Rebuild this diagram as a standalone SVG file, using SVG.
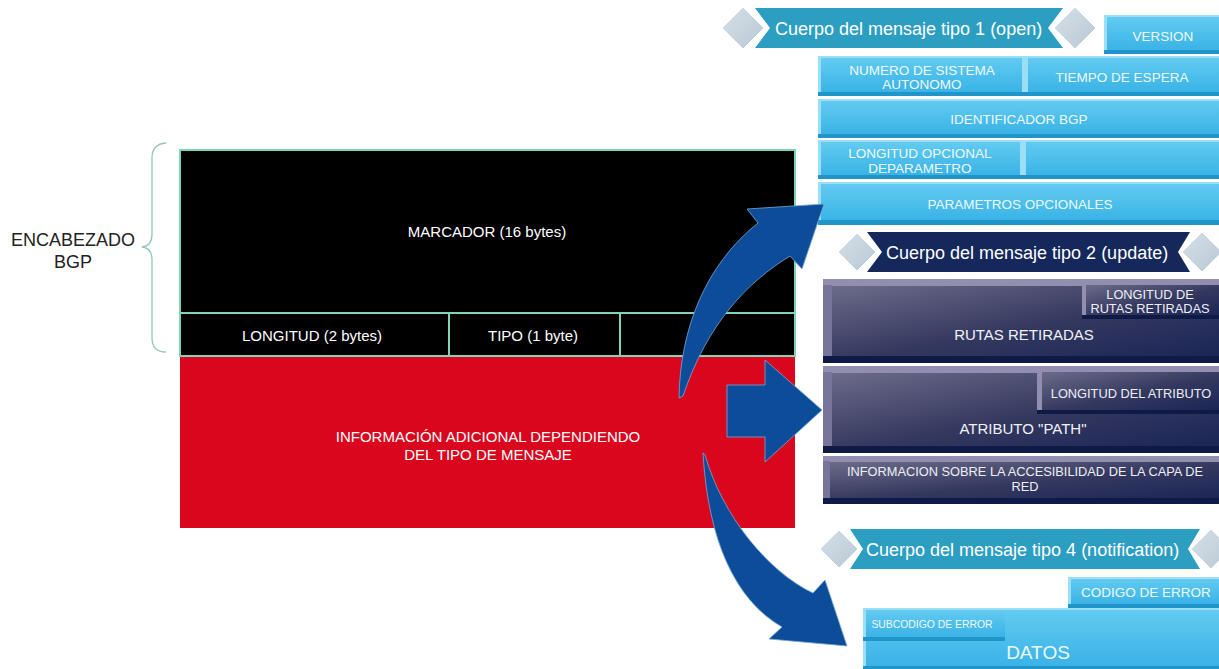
<svg xmlns="http://www.w3.org/2000/svg" width="1219" height="669" viewBox="0 0 1219 669">
  <defs>
    <linearGradient id="gCy" x1="0" y1="0" x2="0" y2="1">
      <stop offset="0" stop-color="#62cbf1"/>
      <stop offset="1" stop-color="#3ab3e6"/>
    </linearGradient>
    <linearGradient id="gDk" x1="0" y1="0" x2="1" y2="1">
      <stop offset="0" stop-color="#6c6b89"/>
      <stop offset="0.55" stop-color="#34385f"/>
      <stop offset="1" stop-color="#1b2656"/>
    </linearGradient>
    <linearGradient id="gDia" x1="0" y1="0" x2="1" y2="1">
      <stop offset="0" stop-color="#d6e0e8"/>
      <stop offset="1" stop-color="#b9c8d4"/>
    </linearGradient>
  </defs>
  <style>
    text { font-family: "Liberation Sans", Arial, sans-serif; text-anchor: middle; }
    .hdr { fill: #000; stroke: #7fd3b6; stroke-width: 2; }
    .red { fill: #d9061d; }
    .wt { fill: #ffffff; font-size: 15px; }
    .lbl { fill: #222; font-size: 18px; }
    .ban { fill: #ffffff; font-size: 18px; text-anchor: start; }
    .teal { fill: #2c9ec2; }
    .navy { fill: #14285b; }
    .dia { fill: url(#gDia); stroke: #ffffff; stroke-width: 1; }
    .cyBase { fill: #1f95ca; }
    .cyHi { fill: #9bdef6; }
    .cyFace { fill: url(#gCy); }
    .cyT { fill: #eef9fd; font-size: 13.5px; }
    .dkBase { fill: #0f1b46; }
    .dkHi { fill: #928eb0; }
    .dkLeft { fill: #77769a; }
    .dkFace { fill: url(#gDk); }
    .dkT { fill: #f2f2f7; font-size: 15px; }
    .dkS { fill: #eeeef5; font-size: 12.8px; }
    .arrow { fill: #0d4c98; stroke: #78a8da; stroke-width: 0.8; }
    .brace { fill: none; stroke: #92c6bd; stroke-width: 1.3; }
  </style>

  <!-- BGP header label and brace -->
  <g id="encabezado">
    <path class="brace" d="M166 143 Q152 144 152 158 L152 234 Q152 246 142 247 Q152 248 152 260 L152 338 Q152 352 166 352"/>
    <text class="lbl" x="73" y="246">ENCABEZADO</text>
    <text class="lbl" x="73" y="268">BGP</text>
  </g>

  <!-- Header fields -->
  <g id="marcador">
    <rect class="hdr" x="180" y="150" width="615" height="163"/>
    <text class="wt" x="487" y="237">MARCADOR (16 bytes)</text>
  </g>
  <g id="longitud">
    <rect class="hdr" x="180" y="313" width="269" height="43"/>
    <text class="wt" x="312" y="341">LONGITUD (2 bytes)</text>
  </g>
  <g id="tipo">
    <rect class="hdr" x="449" y="313" width="171" height="43"/>
    <text class="wt" x="533" y="341">TIPO (1 byte)</text>
  </g>
  <g id="cabecera-resto">
    <rect class="hdr" x="620" y="313" width="175" height="43"/>
  </g>
  <g id="informacion-adicional">
    <rect class="red" x="180" y="357" width="615" height="171"/>
    <text class="wt" x="488" y="442">INFORMACIÓN ADICIONAL DEPENDIENDO</text>
    <text class="wt" x="488" y="460">DEL TIPO DE MENSAJE</text>
  </g>

  <!-- Message type 1 (open) -->
  <g id="banner-open">
    <polygon class="teal" points="755,8 1063,8 1048,28 1063,48 755,48 770,28"/>
    <polygon class="dia" points="743,7 764,28 743,49 722,28"/>
    <polygon class="dia" points="1075,7 1096,28 1075,49 1054,28"/>
    <text class="ban" x="775" y="35">Cuerpo del mensaje tipo 1 (open)</text>
  </g>
  <g id="version">
    <rect class="cyBase" x="1104" y="15" width="115" height="39"/>
    <rect class="cyHi" x="1104" y="15" width="115" height="35"/>
    <rect class="cyFace" x="1107" y="17" width="112" height="33"/>
    <text class="cyT" x="1163" y="41">VERSION</text>
  </g>
  <g id="numero-sistema">
    <rect class="cyBase" x="818" y="56" width="207" height="40"/>
    <rect class="cyHi" x="818" y="56" width="207" height="36"/>
    <rect class="cyFace" x="821" y="58" width="201" height="34"/>
    <text class="cyT" x="922" y="75">NUMERO DE SISTEMA</text>
    <text class="cyT" x="922" y="89">AUTONOMO</text>
  </g>
  <g id="tiempo-espera">
    <rect class="cyBase" x="1025" y="56" width="194" height="40"/>
    <rect class="cyHi" x="1025" y="56" width="194" height="36"/>
    <rect class="cyFace" x="1028" y="58" width="191" height="34"/>
    <text class="cyT" x="1122" y="82">TIEMPO DE ESPERA</text>
  </g>
  <g id="identificador-bgp">
    <rect class="cyBase" x="818" y="99" width="401" height="39"/>
    <rect class="cyHi" x="818" y="99" width="401" height="35"/>
    <rect class="cyFace" x="821" y="101" width="398" height="33"/>
    <text class="cyT" x="1019" y="124">IDENTIFICADOR BGP</text>
  </g>
  <g id="longitud-opcional">
    <rect class="cyBase" x="818" y="140" width="205" height="39"/>
    <rect class="cyHi" x="818" y="140" width="205" height="35"/>
    <rect class="cyFace" x="821" y="142" width="199" height="33"/>
    <text class="cyT" x="920" y="158">LONGITUD OPCIONAL</text>
    <text class="cyT" x="920" y="173">DEPARAMETRO</text>
  </g>
  <g id="longitud-opcional-resto">
    <rect class="cyBase" x="1023" y="140" width="196" height="39"/>
    <rect class="cyHi" x="1023" y="140" width="196" height="35"/>
    <rect class="cyFace" x="1026" y="142" width="193" height="33"/>
  </g>
  <g id="parametros-opcionales">
    <rect class="cyBase" x="818" y="182" width="401" height="43"/>
    <rect class="cyHi" x="818" y="182" width="401" height="38"/>
    <rect class="cyFace" x="821" y="184" width="398" height="36"/>
    <text class="cyT" x="1020" y="209">PARAMETROS OPCIONALES</text>
  </g>

  <!-- Message type 2 (update) -->
  <g id="banner-update">
    <polygon class="navy" points="867,232 1190,232 1178,252 1190,272 867,272 882,252"/>
    <polygon class="dia" points="857,233 876,252 857,271 838,252"/>
    <polygon class="dia" points="1202,232 1222,252 1202,272 1182,252"/>
    <text class="ban" x="886" y="259">Cuerpo del mensaje tipo 2 (update)</text>
  </g>
  <g id="rutas-retiradas">
    <rect class="dkBase" x="823" y="279" width="396" height="84"/>
    <rect class="dkHi" x="823" y="279" width="396" height="77"/>
    <rect class="dkLeft" x="823" y="285" width="9" height="71"/>
    <rect class="dkFace" x="832" y="286" width="387" height="70"/>
    <text class="dkT" x="1024" y="340">RUTAS RETIRADAS</text>
  </g>
  <g id="longitud-rutas">
    <rect class="dkBase" x="1082" y="282" width="137" height="37"/>
    <rect class="dkHi" x="1082" y="282" width="137" height="33"/>
    <rect class="dkFace" x="1086" y="285" width="133" height="30"/>
    <text class="dkS" x="1150" y="299">LONGITUD DE</text>
    <text class="dkS" x="1150" y="313">RUTAS RETIRADAS</text>
  </g>
  <g id="atributo-path">
    <rect class="dkBase" x="823" y="366" width="396" height="87"/>
    <rect class="dkHi" x="823" y="366" width="396" height="80"/>
    <rect class="dkLeft" x="823" y="372" width="9" height="74"/>
    <rect class="dkFace" x="832" y="373" width="387" height="73"/>
    <text class="dkT" x="1023" y="434">ATRIBUTO "PATH"</text>
  </g>
  <g id="longitud-atributo">
    <rect class="dkBase" x="1037" y="369" width="182" height="45"/>
    <rect class="dkHi" x="1037" y="369" width="182" height="41"/>
    <rect class="dkFace" x="1042" y="372" width="177" height="38"/>
    <text class="dkS" x="1131" y="398">LONGITUD DEL ATRIBUTO</text>
  </g>
  <g id="informacion-red">
    <rect class="dkBase" x="823" y="456" width="396" height="48"/>
    <rect class="dkHi" x="823" y="456" width="396" height="42"/>
    <rect class="dkLeft" x="823" y="461" width="7" height="37"/>
    <rect class="dkFace" x="830" y="462" width="389" height="36"/>
    <text class="dkS" x="1025" y="476">INFORMACION SOBRE LA ACCESIBILIDAD DE LA CAPA DE</text>
    <text class="dkS" x="1025" y="491">RED</text>
  </g>

  <!-- Message type 4 (notification) -->
  <g id="banner-notification">
    <polygon class="teal" points="850,529 1200,529 1188,549 1200,569 850,569 863,549"/>
    <polygon class="dia" points="839,530 858,549 839,568 820,549"/>
    <polygon class="dia" points="1211,529 1231,549 1211,569 1191,549"/>
    <text class="ban" x="866" y="556">Cuerpo del mensaje tipo 4 (notification)</text>
  </g>
  <g id="codigo-error">
    <rect class="cyBase" x="1068" y="577" width="151" height="31"/>
    <rect class="cyHi" x="1068" y="577" width="151" height="27"/>
    <rect class="cyFace" x="1071" y="579" width="148" height="25"/>
    <text class="cyT" x="1146" y="597">CODIGO DE ERROR</text>
  </g>
  <g id="datos">
    <rect class="cyBase" x="863" y="608" width="356" height="61"/>
    <rect class="cyHi" x="863" y="608" width="356" height="58"/>
    <rect class="cyFace" x="866" y="610" width="353" height="56"/>
    <text class="cyT" x="1038" y="659" style="font-size:19px">DATOS</text>
  </g>
  <g id="subcodigo-error">
    <rect class="cyBase" x="863" y="608" width="142" height="33"/>
    <rect class="cyHi" x="863" y="608" width="142" height="29"/>
    <rect class="cyFace" x="866" y="610" width="139" height="27"/>
    <text class="cyT" x="932" y="628" style="font-size:10.4px">SUBCODIGO DE ERROR</text>
  </g>

  <!-- Arrows from the additional-information field to each message body -->
  <g id="connectors">
    <path class="arrow" d="M679 398 C680 330 705 265 758 223 L747 209 L824 204 L802 269 L790 256 C748 282 708 322 683 396 Z"/>
    <polygon class="arrow" points="727,385 765,385 765,360 822,410 765,462 765,437 727,437"/>
    <path class="arrow" d="M703 453 C708 540 735 600 782 627 L769 639 L847 646 L825 580 L813 593 C768 572 722 515 705 455 Z"/>
  </g>
</svg>
